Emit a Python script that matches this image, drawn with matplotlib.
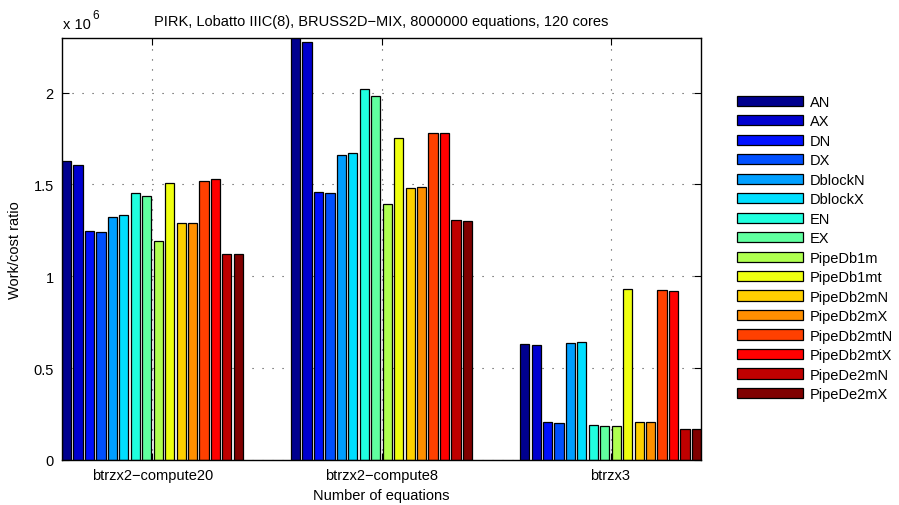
import matplotlib
matplotlib.use('Agg')
import matplotlib.pyplot as plt
import numpy as np

plt.rcParams['font.family'] = ['Liberation Sans', 'DejaVu Sans']

groups = ['btrzx2\u2212compute20', 'btrzx2\u2212compute8', 'btrzx3']
series = ['AN', 'AX', 'DN', 'DX', 'DblockN', 'DblockX', 'EN', 'EX',
          'PipeDb1m', 'PipeDb1mt', 'PipeDb2mN', 'PipeDb2mX',
          'PipeDb2mtN', 'PipeDb2mtX', 'PipeDe2mN', 'PipeDe2mX']

# values in units of 1e6, one list per group (series order as above)
compute20 = [1.629, 1.607, 1.245, 1.241, 1.321, 1.333, 1.451, 1.437,
             1.192, 1.507, 1.292, 1.288, 1.520, 1.529, 1.121, 1.123]
compute8 = [2.35, 2.273, 1.458, 1.456, 1.660, 1.671, 2.020, 1.980,
            1.396, 1.751, 1.478, 1.484, 1.782, 1.778, 1.306, 1.303]
btrzx3 = [0.634, 0.625, 0.207, 0.203, 0.639, 0.641, 0.188, 0.187,
          0.187, 0.931, 0.207, 0.207, 0.924, 0.920, 0.168, 0.168]


def matlab_jet(n=64):
    # same construction as MATLAB's jet(n)
    m = int(np.ceil(n / 4))
    u = np.concatenate([np.arange(1, m + 1) / m, np.ones(m - 1), np.arange(m, 0, -1) / m])
    g = int(np.ceil(m / 2)) - (1 if n % 4 == 1 else 0) + np.arange(1, len(u) + 1)
    r = g + m
    b = g - m
    J = np.zeros((n, 3))
    for idx, val in zip(g, u):
        if 1 <= idx <= n:
            J[idx - 1, 1] = val
    for idx, val in zip(r, u):
        if 1 <= idx <= n:
            J[idx - 1, 0] = val
    for idx, val in zip(b, u):
        if 1 <= idx <= n:
            J[idx - 1, 2] = val
    return J


jet = matlab_jet(64)
ns = len(series)
colors = [jet[min(int((k) / (ns - 1) * 64), 63)] for k in range(ns)]

data = np.array([compute20, compute8, btrzx3]) * 1e6
x = np.arange(1, len(groups) + 1)

fig = plt.figure(figsize=(8.99, 5.06), dpi=100)
W, H = 899, 506
ax = fig.add_axes([62 / W, 1 - 461 / H, (701 - 62) / W, (461 - 38.5) / H])

gw = 0.8
slot = gw / ns
for k in range(ns):
    pos = x - gw / 2 + slot / 2 + k * slot
    ax.bar(pos, data[:, k], width=slot * 0.8, color=colors[k],
           edgecolor='black', linewidth=0.9, label=series[k], zorder=3)

ax.set_xlim(0.605, 3.395)
ax.set_ylim(0, 2.3e6)
ax.set_xticks(x)
ax.set_xticklabels(groups)
ax.set_yticks([0, 0.5e6, 1e6, 1.5e6, 2e6])
ax.set_yticklabels(['0', '0.5', '1', '1.5', '2'])
ax.tick_params(direction='in', length=5, top=True, right=True, labelsize=10.5, pad=6)
ax.grid(True, linestyle=(0, (1, 8)), color='#444444', linewidth=0.8, zorder=1)
for sp in ax.spines.values():
    sp.set_linewidth(1.0)
    sp.set_zorder(5)

ax.set_xlabel('Number of equations', fontsize=10.5, labelpad=4)
ax.set_ylabel('Work/cost ratio', fontsize=10.5, labelpad=8)
ax.set_title('PIRK, Lobatto IIIC(8), BRUSS2D\u2212MIX, 8000000 equations, 120 cores',
             fontsize=10.5, pad=9)
fig.text(63 / W, 1 - 29 / H, 'x 10', fontsize=10.5, ha='left', va='baseline')
fig.text(92 / W, 1 - 19 / H, '6', fontsize=8.5, ha='left', va='baseline')

ax.legend(loc='upper left', bbox_to_anchor=(737 / W, 1 - 96 / H),
          bbox_transform=fig.transFigure, frameon=False, fontsize=10.5,
          handlelength=4.5, handletextpad=0.5, labelspacing=0.375,
          borderaxespad=0, borderpad=0)

plt.savefig('out.png', dpi=100)
